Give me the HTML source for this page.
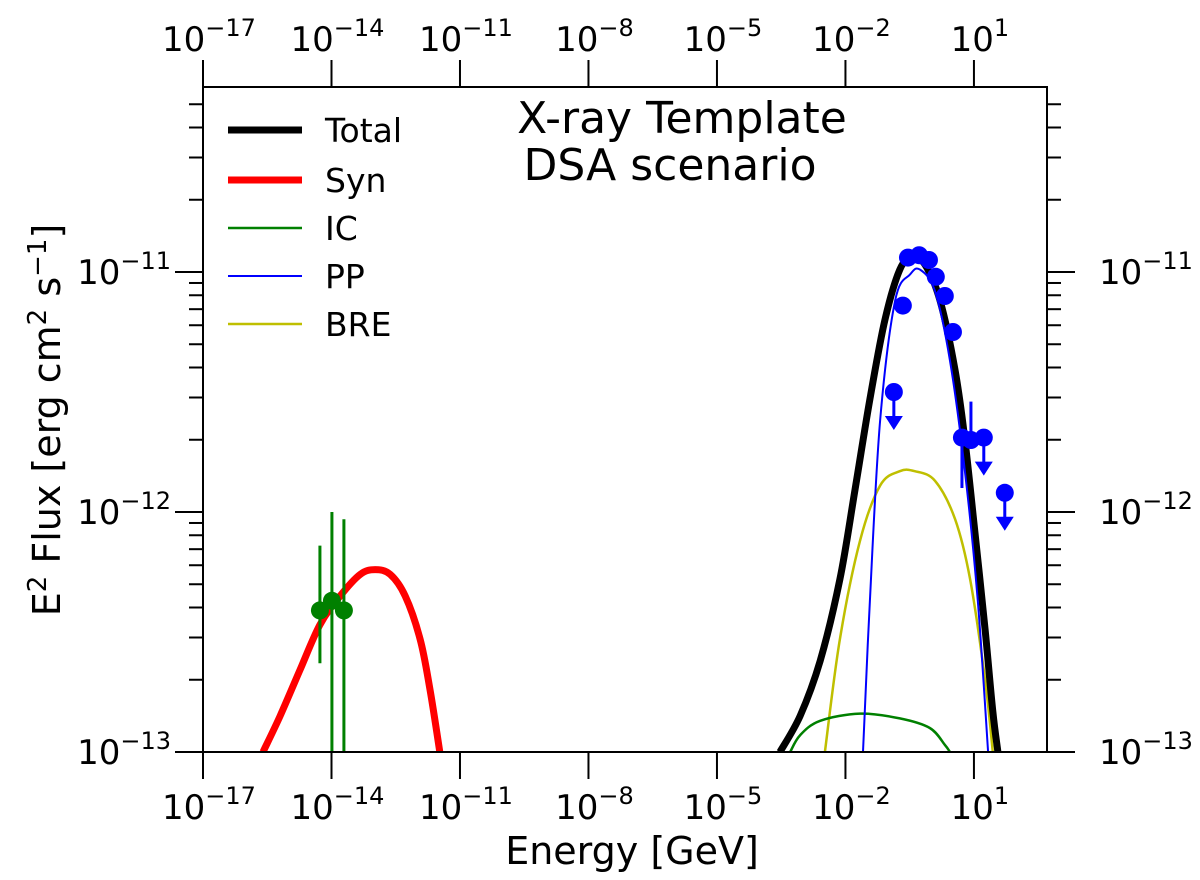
<!DOCTYPE html>
<html><head><meta charset="utf-8"><style>
html,body{margin:0;padding:0;background:#fff;}
svg{display:block;font-family:"DejaVu Sans","Liberation Sans",sans-serif;}
</style></head><body>
<svg id="chart" width="1200" height="880" viewBox="0 0 1200 880" xmlns="http://www.w3.org/2000/svg"></svg>
<script>
// ---- data (log10 energy [GeV], log10 flux) ----
const xTickExps = [-17,-14,-11,-8,-5,-2,1];
const yTickExps = [-13,-12,-11];
const synE = [-15.60,-15.20,-14.74,-14.27,-13.80,-13.33,-12.98,-12.63,-12.28,-11.93,-11.70,-11.47];
const synF = [-13.00,-12.85,-12.66,-12.47,-12.35,-12.26,-12.24,-12.26,-12.35,-12.53,-12.74,-13.00];
const totE = [-3.53,-3.06,-2.59,-2.13,-1.78,-1.43,-1.08,-0.73,-0.45,-0.14,0.21,0.56,0.79,1.02,1.26,1.44,1.56];
const totF = [-13.00,-12.85,-12.62,-12.28,-11.91,-11.53,-11.20,-10.99,-10.94,-10.97,-11.12,-11.41,-11.70,-12.08,-12.49,-12.83,-13.00];
const ppE = [-1.59,-1.43,-1.19,-0.84,-0.49,-0.26,0.09,0.44,0.79,1.09,1.33];
const ppF = [-13.00,-12.37,-11.62,-11.12,-11.01,-10.99,-11.08,-11.37,-11.83,-12.37,-13.00];
const breE = [-2.48,-2.13,-1.66,-1.19,-0.73,-0.38,0.09,0.56,0.91,1.26,1.44];
const breF = [-13.00,-12.53,-12.12,-11.89,-11.83,-11.83,-11.87,-12.03,-12.28,-12.70,-13.00];
const icE = [-3.29,-3.06,-2.59,-1.66,-0.73,-0.03,0.32,0.44];
const icF = [-13.00,-12.93,-12.87,-12.84,-12.86,-12.90,-12.97,-13.00];
const xrayE = [-14.27,-13.99,-13.71];
const xrayF = [-12.41,-12.37,-12.41];
const xrayLo = [-12.63,-13.00,-13.00];
const xrayHi = [-12.14,-12.00,-12.03];
const gamE = [-0.66,-0.54,-0.28,-0.05,0.11,0.32,0.51,0.72,0.93];
const gamF = [-11.14,-10.94,-10.93,-10.95,-11.02,-11.10,-11.25,-11.69,-11.70];
const gamLo = [null,null,null,null,null,null,null,-11.90,-11.70];
const gamHi = [null,null,null,null,null,null,null,-11.66,-11.54];
const ulE = [-0.87,1.23,1.72];
const ulF = [-11.50,-11.69,-11.92];

// ---- axes ----
const L=203,R=1047,T=87,B=752;
const X=e=>L+(e+17)*42.83;
const Y=f=>B-(f+13)*240;
const NS="http://www.w3.org/2000/svg";
const svg=document.getElementById('chart');
function el(tag,attrs,parent){const n=document.createElementNS(NS,tag);for(const k in attrs)n.setAttribute(k,attrs[k]);(parent||svg).appendChild(n);return n;}
function smoothPath(E,F){
  const P=E.map((e,i)=>[X(e),Y(F[i])]);
  let d='M'+P[0][0].toFixed(1)+' '+P[0][1].toFixed(1);
  for(let i=0;i<P.length-1;i++){
    const p0=P[Math.max(0,i-1)],p1=P[i],p2=P[i+1],p3=P[Math.min(P.length-1,i+2)];
    const c1=[p1[0]+(p2[0]-p0[0])/6,p1[1]+(p2[1]-p0[1])/6];
    const c2=[p2[0]-(p3[0]-p1[0])/6,p2[1]-(p3[1]-p1[1])/6];
    d+=` C${c1[0].toFixed(1)} ${c1[1].toFixed(1)} ${c2[0].toFixed(1)} ${c2[1].toFixed(1)} ${p2[0].toFixed(1)} ${p2[1].toFixed(1)}`;
  }
  return d;
}
function line(E,F,color,w,name){
  const p=el('path',{d:smoothPath(E,F),fill:'none',stroke:color,'stroke-width':w,'stroke-linejoin':'round','clip-path':'url(#clip)'});
  
  
}
const defs=el('defs',{});
const cp=el('clipPath',{id:'clip'},defs);
el('rect',{x:L,y:T,width:R-L,height:B-T},cp);

line(breE,breF,'#bfbf00',2.5,'bre-curve');
line(icE,icF,'#008000',2.5,'ic-curve');
line(synE,synF,'#ff0000',7,'syn-curve');
line(totE,totF,'#000000',7,'total-curve');
line(ppE,ppF,'#0000ff',2,'pp-curve');

xrayE.forEach((e,i)=>{
  const g=el('g',{});
  
  
  el('line',{x1:X(e),x2:X(e),y1:Y(xrayLo[i]),y2:Y(xrayHi[i]),stroke:'#008000','stroke-width':3},g);
  el('circle',{cx:X(e),cy:Y(xrayF[i]),r:9,fill:'#008000'},g);
});
gamE.forEach((e,i)=>{
  const g=el('g',{});
  
  
  if(gamLo[i]!==null)el('line',{x1:X(e),x2:X(e),y1:Y(gamLo[i]),y2:Y(gamHi[i]),stroke:'#0000ff','stroke-width':3},g);
  el('circle',{cx:X(e),cy:Y(gamF[i]),r:9,fill:'#0000ff'},g);
});
ulE.forEach((e,i)=>{
  const g=el('g',{});
  
  
  const x=X(e),y=Y(ulF[i]);
  el('line',{x1:x,x2:x,y1:y,y2:y+28,stroke:'#0000ff','stroke-width':3},g);
  el('path',{d:`M${x-9} ${y+24} L${x+9} ${y+24} L${x} ${y+38} Z`,fill:'#0000ff'},g);
  el('circle',{cx:x,cy:y,r:9,fill:'#0000ff'},g);
});

const fr=el('rect',{x:L,y:T,width:R-L,height:B-T,fill:'none',stroke:'#000','stroke-width':2});



function expLabel(ex){return '10<tspan dy="-15" font-size="24">'+(ex<0?'\u2212':'')+Math.abs(ex)+'</tspan>';}
xTickExps.forEach(ex=>{
  const x=X(ex);
  el('line',{x1:x,x2:x,y1:B,y2:B+27,stroke:'#000','stroke-width':2});
  el('line',{x1:x,x2:x,y1:T,y2:T-27,stroke:'#000','stroke-width':2});
  [[B+67,'x-tick-label'],[T-36,'top-x-tick-label']].forEach(([yy,nm])=>{
    const t=el('text',{x:x+6,y:yy,'font-size':34,'text-anchor':'middle'});
    
    
    t.innerHTML=expLabel(ex);
  });
});
for(let d=-13;d<=-11;d++){
  for(let m=1;m<=9;m++){
    const f=d+Math.log10(m);
    const y=Y(f); if(y<T-0.5)continue;
    const len=m===1?28:14;
    el('line',{x1:L,x2:L-len,y1:y,y2:y,stroke:'#000','stroke-width':2});
    el('line',{x1:R,x2:R+len,y1:y,y2:y,stroke:'#000','stroke-width':2});
  }
}
yTickExps.forEach(ex=>{
  const y=Y(ex);
  [[L-32,'end','y-tick-label'],[R+52,'start','right-y-tick-label']].forEach(([xx,a,nm])=>{
    const t=el('text',{x:xx,y:y+12,'font-size':34,'text-anchor':a});
    
    
    t.innerHTML=expLabel(ex);
  });
});
</script>
<svg style="position:absolute;left:0;top:0" width="1200" height="880" xmlns="http://www.w3.org/2000/svg" font-family="DejaVu Sans, Liberation Sans, sans-serif">
<text x="632" y="864" font-size="38" text-anchor="middle">Energy [GeV]</text>
<text transform="translate(60,420) rotate(-90)" font-size="38" text-anchor="middle">E<tspan dy="-14" font-size="26">2</tspan><tspan dy="14"> Flux [erg cm</tspan><tspan dy="-14" font-size="26">2</tspan><tspan dy="14"> s</tspan><tspan dy="-14" font-size="26">−1</tspan><tspan dy="14">]</tspan></text>
<text x="682" y="133" font-size="44" text-anchor="middle">X-ray Template</text>
<text x="670" y="180" font-size="44" text-anchor="middle">DSA scenario</text>
<g font-size="33">
<g><line x1="228" y1="130" x2="302" y2="130" stroke="#000" stroke-width="7"/><text x="325" y="142">Total</text></g>
<g><line x1="228" y1="180" x2="302" y2="180" stroke="#f00" stroke-width="7"/><text x="325" y="192">Syn</text></g>
<g><line x1="228" y1="228" x2="302" y2="228" stroke="#008000" stroke-width="2.5"/><text x="325" y="240">IC</text></g>
<g><line x1="228" y1="276" x2="302" y2="276" stroke="#00f" stroke-width="2"/><text x="325" y="288">PP</text></g>
<g><line x1="228" y1="324" x2="302" y2="324" stroke="#bfbf00" stroke-width="2.5"/><text x="325" y="336">BRE</text></g>
</g>
</svg>
</body></html>
